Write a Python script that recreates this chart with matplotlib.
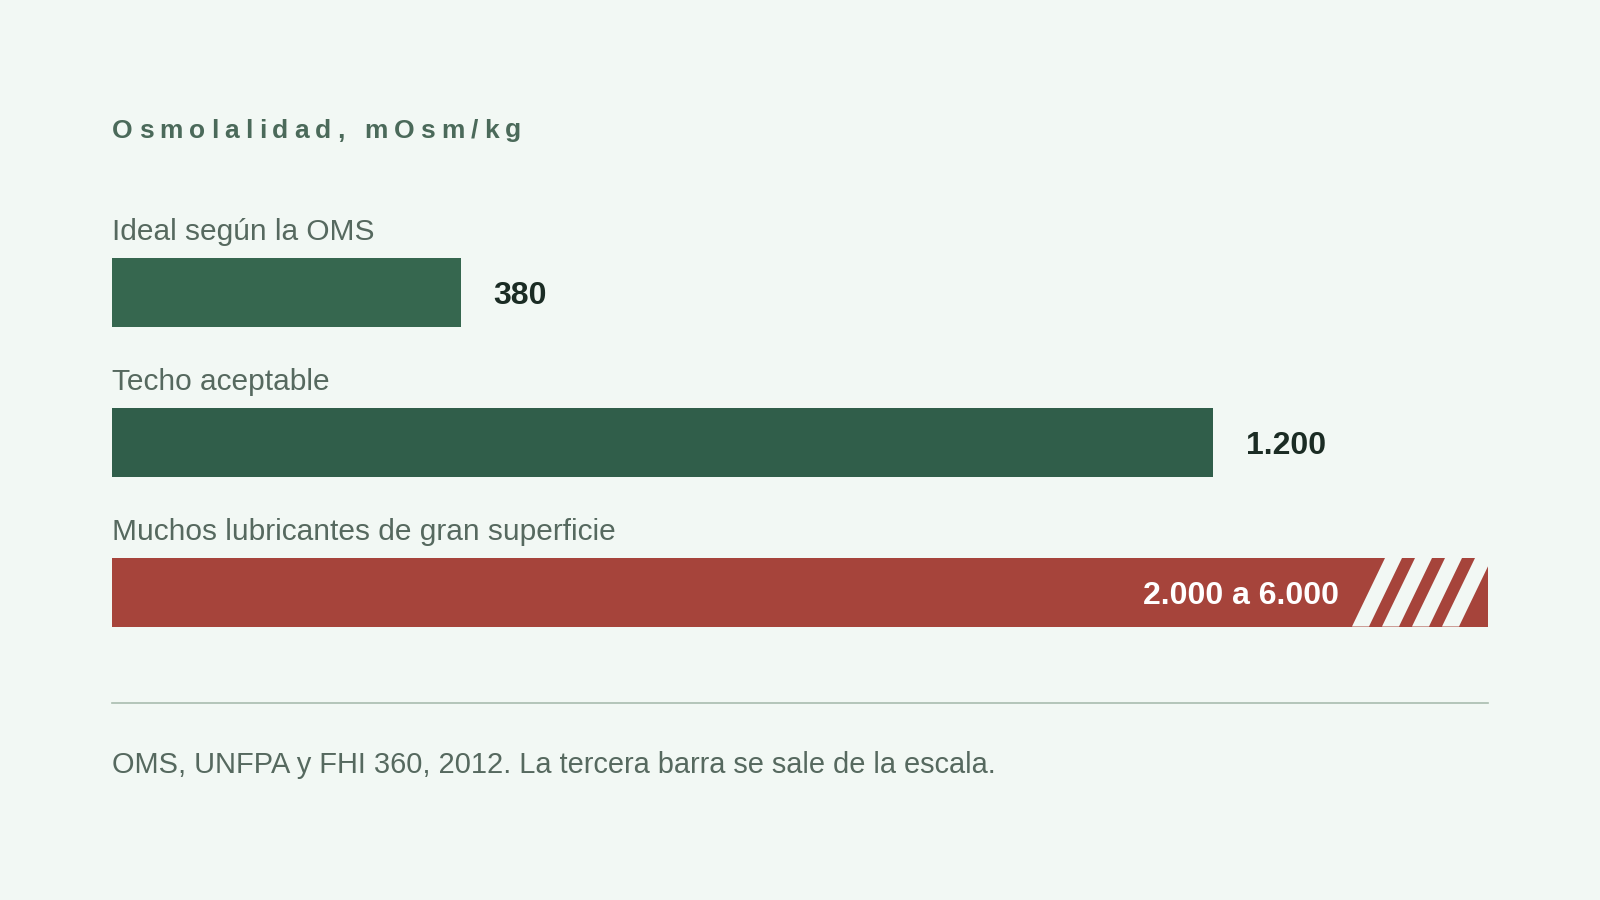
import matplotlib
matplotlib.use("Agg")
import matplotlib.pyplot as plt
from matplotlib.patches import Polygon
from matplotlib.lines import Line2D
from matplotlib.font_manager import FontProperties, findfont, get_font


# --- data ---
categories = ["Ideal según la OMS", "Techo aceptable", "Muchos lubricantes de gran superficie"]
values_low = [380, 1200, 2000]
values_high = [380, 1200, 6000]
value_labels = ["380", "1.200", "2.000 a 6.000"]
bar_colors = ["#36674f", "#305e4a", "#a6443b"]
axis_max = 1500

title = "Osmolalidad, mOsm/kg"
footnote = "OMS, UNFPA y FHI 360, 2012. La tercera barra se sale de la escala."

BG = "#f2f8f4"
LABEL_COLOR = "#56695f"
TITLE_COLOR = "#4b6a5a"
VALUE_COLOR = "#1b2c24"
RULE_COLOR = "#a9bdaf"
FONT = "Liberation Sans"

W, H = 1600, 900
BAR_H = 68.5 / 150


def spaced_title(fig, x_px, base_px, text, size, tracking_px):
    # matplotlib has no letter-spacing, so place glyphs one by one
    fp = FontProperties(family=FONT, weight="bold", size=size)
    font = get_font(findfont(fp))
    font.set_size(size, fig.dpi)
    x = x_px
    for ch in text:
        fig.text(x / W, 1 - base_px / H, ch, fontproperties=fp,
                 color=TITLE_COLOR, ha="left", va="baseline")
        glyph = font.load_char(ord(ch))
        x += glyph.linearHoriAdvance / 65536 + tracking_px


def main() -> None:
    fig = plt.figure(figsize=(16, 9), dpi=100, facecolor=BG)
    ax_left, ax_right = 112, 1488
    ax = fig.add_axes([ax_left / W, 1 - 626.5 / H, (ax_right - ax_left) / W, (626.5 - 258) / H])
    ax.set_facecolor(BG)
    ax.set_xlim(0, axis_max)
    n = len(categories)
    ax.set_ylim(n - 1 + BAR_H / 2, -BAR_H / 2)
    ax.axis("off")

    px_per_unit = (ax_right - ax_left) / axis_max

    for i, cat in enumerate(categories):
        off_scale = values_high[i] > axis_max
        width = min(values_high[i], axis_max)
        bar = ax.barh(i, width, height=BAR_H, color=bar_colors[i], left=0)[0]

        ax.annotate(cat, xy=(0, i - BAR_H / 2), xytext=(0, 13), textcoords="offset points",
                    ha="left", va="baseline", fontsize=21.5, family=FONT, color=LABEL_COLOR)

        if off_scale:
            # broken end: slanted background-coloured gaps clipped to the bar
            period = 30 / px_per_unit
            gap = 17 / px_per_unit
            slant = 33 / px_per_unit
            start = axis_max - 103 / px_per_unit
            y_top, y_bot = i - BAR_H / 2, i + BAR_H / 2
            for k in range(4):
                x0 = start + k * period
                poly = Polygon([(x0, y_top), (x0 + gap, y_top),
                                (x0 + gap - slant, y_bot), (x0 - slant, y_bot)],
                               closed=True, facecolor=BG, edgecolor="none")
                ax.add_patch(poly)
                poly.set_clip_path(bar)
            ax.annotate(value_labels[i], xy=(start, i), xytext=(-33.3, -8.6),
                        textcoords="offset points", ha="right", va="baseline",
                        fontsize=23, fontweight="bold", family=FONT, color="white")
        else:
            ax.annotate(value_labels[i], xy=(width, i), xytext=(23.8, -8.6),
                        textcoords="offset points", ha="left", va="baseline",
                        fontsize=23, fontweight="bold", family=FONT, color=VALUE_COLOR)

    spaced_title(fig, 112, 137.5, title, 19, 6.1)

    fig.add_artist(Line2D([ax_left / W, ax_right / W], [1 - 702.7 / H] * 2,
                          transform=fig.transFigure, color=RULE_COLOR, linewidth=1.2))

    fig.text(112 / W, 1 - 772.7 / H, footnote, ha="left", va="baseline",
             fontsize=20.85, family=FONT, color=LABEL_COLOR)

    fig.savefig("out.png", dpi=100, facecolor=BG)
    plt.close(fig)


if __name__ == "__main__":
    main()
